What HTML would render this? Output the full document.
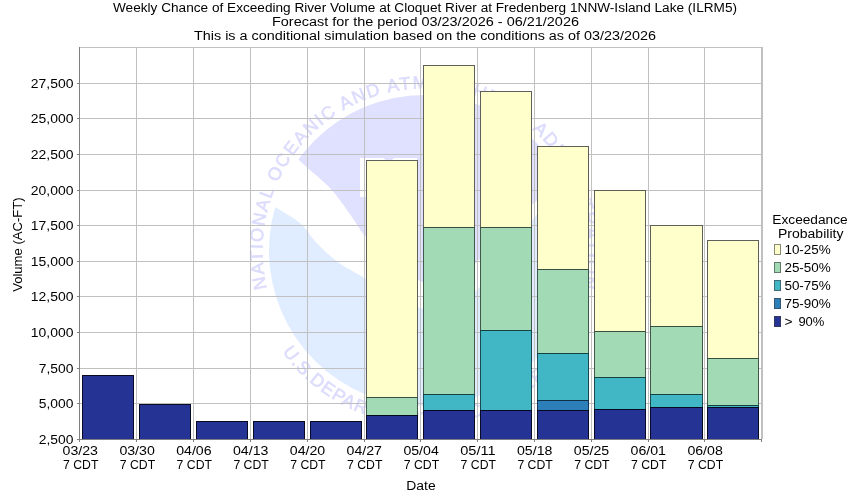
<!DOCTYPE html><html><head><meta charset="utf-8"><style>html,body{margin:0;padding:0;background:#fff;width:850px;height:500px;overflow:hidden}svg{display:block;will-change:transform}text{font-family:"Liberation Sans",sans-serif;fill:#000}</style></head><body>
<svg width="850" height="500" viewBox="0 0 850 500">
<rect x="0" y="0" width="850" height="500" fill="#fff"/>
<defs><clipPath id="disc"><circle cx="424.5" cy="250.5" r="155.5"/></clipPath>
<path id="toparc" d="M 266.98 288.32 A 162.00 162.00 0 1 1 580.22 295.15"/>
<path id="botarc" d="M 282.44 351.83 A 174.50 174.50 0 0 0 566.56 351.83"/>
</defs>
<g clip-path="url(#disc)">
<rect x="269.0" y="95.0" width="311.0" height="311.0" fill="#fff"/>
<path d="M 262.0 120.0 C 265.0 123.3, 273.7 133.2, 280.0 140.0 C 286.3 146.8, 292.0 153.3, 300.0 161.0 C 308.0 168.7, 321.0 179.0, 328.0 186.0 C 335.0 193.0, 337.3 196.8, 342.0 203.0 C 346.7 209.2, 352.0 217.3, 356.0 223.0 C 360.0 228.7, 359.8 230.5, 366.0 237.0 C 372.2 243.5, 384.0 254.7, 393.0 262.0 C 402.0 269.3, 410.8 277.0, 420.0 281.0 C 429.2 285.0, 438.5 289.2, 448.0 286.0 C 457.5 282.8, 467.5 271.0, 477.0 262.0 C 486.5 253.0, 495.5 241.8, 505.0 232.0 C 514.5 222.2, 524.8 211.7, 534.0 203.0 C 543.2 194.3, 549.0 189.7, 560.0 180.0 C 571.0 170.3, 593.3 150.8, 600.0 145.0 L 600 60 L 250 60 Z" fill="#E0E0FF"/>
<path d="M 255.0 195.0 C 258.3 197.0, 267.5 202.3, 275.0 207.0 C 282.5 211.7, 293.5 217.5, 300.0 223.0 C 306.5 228.5, 309.3 234.8, 314.0 240.0 C 318.7 245.2, 323.3 249.8, 328.0 254.0 C 332.7 258.2, 337.3 261.8, 342.0 265.0 C 346.7 268.2, 352.0 270.7, 356.0 273.0 C 360.0 275.3, 359.8 275.2, 366.0 279.0 C 372.2 282.8, 384.0 291.2, 393.0 296.0 C 402.0 300.8, 410.8 305.8, 420.0 308.0 C 429.2 310.2, 438.5 312.0, 448.0 309.0 C 457.5 306.0, 467.5 299.0, 477.0 290.0 C 486.5 281.0, 495.5 267.0, 505.0 255.0 C 514.5 243.0, 524.8 228.8, 534.0 218.0 C 543.2 207.2, 549.0 201.3, 560.0 190.0 C 571.0 178.7, 593.3 156.7, 600.0 150.0 L 600 420 L 250 420 Z" fill="#E0ECFF"/>
<path d="M 360 158 L 383 158 L 386 160 L 392 160 L 394 158 L 417 158 L 417 197 L 360 197 Z" fill="#fff"/>
</g>
<text font-size="18" style="fill:#DCDCFC;stroke:#DCDCFC;stroke-width:0.6"><textPath href="#toparc" textLength="584.3" lengthAdjust="spacing">NATIONAL OCEANIC AND ATMOSPHERIC ADMINISTRATION</textPath></text>
<text font-size="18" style="fill:#DCDCFC;stroke:#DCDCFC;stroke-width:0.6"><textPath href="#botarc" textLength="328.0" lengthAdjust="spacing">U.S.DEPARTMENT OF COMMERCE</textPath></text>
<rect x="136" y="47" width="1" height="392" fill="#C0C0C0"/>
<rect x="193" y="47" width="1" height="392" fill="#C0C0C0"/>
<rect x="250" y="47" width="1" height="392" fill="#C0C0C0"/>
<rect x="307" y="47" width="1" height="392" fill="#C0C0C0"/>
<rect x="364" y="47" width="1" height="392" fill="#C0C0C0"/>
<rect x="420" y="47" width="1" height="392" fill="#C0C0C0"/>
<rect x="477" y="47" width="1" height="392" fill="#C0C0C0"/>
<rect x="534" y="47" width="1" height="392" fill="#C0C0C0"/>
<rect x="591" y="47" width="1" height="392" fill="#C0C0C0"/>
<rect x="648" y="47" width="1" height="392" fill="#C0C0C0"/>
<rect x="704" y="47" width="1" height="392" fill="#C0C0C0"/>
<rect x="79" y="47" width="683" height="1" fill="#C0C0C0"/>
<rect x="79" y="83" width="683" height="1" fill="#C0C0C0"/>
<rect x="79" y="118" width="683" height="1" fill="#C0C0C0"/>
<rect x="79" y="154" width="683" height="1" fill="#C0C0C0"/>
<rect x="79" y="190" width="683" height="1" fill="#C0C0C0"/>
<rect x="79" y="225" width="683" height="1" fill="#C0C0C0"/>
<rect x="79" y="261" width="683" height="1" fill="#C0C0C0"/>
<rect x="79" y="296" width="683" height="1" fill="#C0C0C0"/>
<rect x="79" y="332" width="683" height="1" fill="#C0C0C0"/>
<rect x="79" y="368" width="683" height="1" fill="#C0C0C0"/>
<rect x="79" y="403" width="683" height="1" fill="#C0C0C0"/>
<rect x="761" y="47" width="2" height="392" fill="#C0C0C0"/>
<rect x="82" y="375" width="52" height="65" fill="#253494"/>
<rect x="82" y="375" width="1" height="65" fill="#080A24"/>
<rect x="133" y="375" width="1" height="65" fill="#080A24"/>
<rect x="82" y="375" width="52" height="1" fill="#080A24"/>
<rect x="82" y="439" width="52" height="1" fill="#080A24"/>
<rect x="139" y="404" width="52" height="36" fill="#253494"/>
<rect x="139" y="404" width="1" height="36" fill="#080A24"/>
<rect x="190" y="404" width="1" height="36" fill="#080A24"/>
<rect x="139" y="404" width="52" height="1" fill="#080A24"/>
<rect x="139" y="439" width="52" height="1" fill="#080A24"/>
<rect x="196" y="421" width="52" height="19" fill="#253494"/>
<rect x="196" y="421" width="1" height="19" fill="#080A24"/>
<rect x="247" y="421" width="1" height="19" fill="#080A24"/>
<rect x="196" y="421" width="52" height="1" fill="#080A24"/>
<rect x="196" y="439" width="52" height="1" fill="#080A24"/>
<rect x="253" y="421" width="52" height="19" fill="#253494"/>
<rect x="253" y="421" width="1" height="19" fill="#080A24"/>
<rect x="304" y="421" width="1" height="19" fill="#080A24"/>
<rect x="253" y="421" width="52" height="1" fill="#080A24"/>
<rect x="253" y="439" width="52" height="1" fill="#080A24"/>
<rect x="310" y="421" width="52" height="19" fill="#253494"/>
<rect x="310" y="421" width="1" height="19" fill="#080A24"/>
<rect x="361" y="421" width="1" height="19" fill="#080A24"/>
<rect x="310" y="421" width="52" height="1" fill="#080A24"/>
<rect x="310" y="439" width="52" height="1" fill="#080A24"/>
<rect x="366" y="160" width="52" height="238" fill="#FFFFCC"/>
<rect x="366" y="397" width="52" height="19" fill="#A1DAB4"/>
<rect x="366" y="415" width="52" height="25" fill="#253494"/>
<rect x="366" y="160" width="1" height="238" fill="#60605A"/>
<rect x="417" y="160" width="1" height="238" fill="#60605A"/>
<rect x="366" y="397" width="1" height="19" fill="#40584A"/>
<rect x="417" y="397" width="1" height="19" fill="#40584A"/>
<rect x="366" y="415" width="1" height="25" fill="#080A24"/>
<rect x="417" y="415" width="1" height="25" fill="#080A24"/>
<rect x="366" y="160" width="52" height="1" fill="#60605A"/>
<rect x="366" y="397" width="52" height="1" fill="#394f42"/>
<rect x="366" y="415" width="52" height="1" fill="#070920"/>
<rect x="366" y="439" width="52" height="1" fill="#080A24"/>
<rect x="423" y="65" width="52" height="163" fill="#FFFFCC"/>
<rect x="423" y="227" width="52" height="168" fill="#A1DAB4"/>
<rect x="423" y="394" width="52" height="17" fill="#41B6C4"/>
<rect x="423" y="410" width="52" height="30" fill="#253494"/>
<rect x="423" y="65" width="1" height="163" fill="#60605A"/>
<rect x="474" y="65" width="1" height="163" fill="#60605A"/>
<rect x="423" y="227" width="1" height="168" fill="#40584A"/>
<rect x="474" y="227" width="1" height="168" fill="#40584A"/>
<rect x="423" y="394" width="1" height="17" fill="#1A4A50"/>
<rect x="474" y="394" width="1" height="17" fill="#1A4A50"/>
<rect x="423" y="410" width="1" height="30" fill="#080A24"/>
<rect x="474" y="410" width="1" height="30" fill="#080A24"/>
<rect x="423" y="65" width="52" height="1" fill="#60605A"/>
<rect x="423" y="227" width="52" height="1" fill="#394f42"/>
<rect x="423" y="394" width="52" height="1" fill="#174242"/>
<rect x="423" y="410" width="52" height="1" fill="#070920"/>
<rect x="423" y="439" width="52" height="1" fill="#080A24"/>
<rect x="480" y="91" width="52" height="137" fill="#FFFFCC"/>
<rect x="480" y="227" width="52" height="104" fill="#A1DAB4"/>
<rect x="480" y="330" width="52" height="81" fill="#41B6C4"/>
<rect x="480" y="410" width="52" height="30" fill="#253494"/>
<rect x="480" y="91" width="1" height="137" fill="#60605A"/>
<rect x="531" y="91" width="1" height="137" fill="#60605A"/>
<rect x="480" y="227" width="1" height="104" fill="#40584A"/>
<rect x="531" y="227" width="1" height="104" fill="#40584A"/>
<rect x="480" y="330" width="1" height="81" fill="#1A4A50"/>
<rect x="531" y="330" width="1" height="81" fill="#1A4A50"/>
<rect x="480" y="410" width="1" height="30" fill="#080A24"/>
<rect x="531" y="410" width="1" height="30" fill="#080A24"/>
<rect x="480" y="91" width="52" height="1" fill="#60605A"/>
<rect x="480" y="227" width="52" height="1" fill="#394f42"/>
<rect x="480" y="330" width="52" height="1" fill="#174242"/>
<rect x="480" y="410" width="52" height="1" fill="#070920"/>
<rect x="480" y="439" width="52" height="1" fill="#080A24"/>
<rect x="537" y="146" width="52" height="124" fill="#FFFFCC"/>
<rect x="537" y="269" width="52" height="85" fill="#A1DAB4"/>
<rect x="537" y="353" width="52" height="48" fill="#41B6C4"/>
<rect x="537" y="400" width="52" height="11" fill="#2C7FB8"/>
<rect x="537" y="410" width="52" height="30" fill="#253494"/>
<rect x="537" y="146" width="1" height="124" fill="#60605A"/>
<rect x="588" y="146" width="1" height="124" fill="#60605A"/>
<rect x="537" y="269" width="1" height="85" fill="#40584A"/>
<rect x="588" y="269" width="1" height="85" fill="#40584A"/>
<rect x="537" y="353" width="1" height="48" fill="#1A4A50"/>
<rect x="588" y="353" width="1" height="48" fill="#1A4A50"/>
<rect x="537" y="400" width="1" height="11" fill="#123452"/>
<rect x="588" y="400" width="1" height="11" fill="#123452"/>
<rect x="537" y="410" width="1" height="30" fill="#080A24"/>
<rect x="588" y="410" width="1" height="30" fill="#080A24"/>
<rect x="537" y="146" width="52" height="1" fill="#60605A"/>
<rect x="537" y="269" width="52" height="1" fill="#394f42"/>
<rect x="537" y="353" width="52" height="1" fill="#174242"/>
<rect x="537" y="400" width="52" height="1" fill="#102e48"/>
<rect x="537" y="410" width="52" height="1" fill="#070920"/>
<rect x="537" y="439" width="52" height="1" fill="#080A24"/>
<rect x="594" y="190" width="52" height="142" fill="#FFFFCC"/>
<rect x="594" y="331" width="52" height="47" fill="#A1DAB4"/>
<rect x="594" y="377" width="52" height="33" fill="#41B6C4"/>
<rect x="594" y="409" width="52" height="31" fill="#253494"/>
<rect x="594" y="190" width="1" height="142" fill="#60605A"/>
<rect x="645" y="190" width="1" height="142" fill="#60605A"/>
<rect x="594" y="331" width="1" height="47" fill="#40584A"/>
<rect x="645" y="331" width="1" height="47" fill="#40584A"/>
<rect x="594" y="377" width="1" height="33" fill="#1A4A50"/>
<rect x="645" y="377" width="1" height="33" fill="#1A4A50"/>
<rect x="594" y="409" width="1" height="31" fill="#080A24"/>
<rect x="645" y="409" width="1" height="31" fill="#080A24"/>
<rect x="594" y="190" width="52" height="1" fill="#60605A"/>
<rect x="594" y="331" width="52" height="1" fill="#394f42"/>
<rect x="594" y="377" width="52" height="1" fill="#174242"/>
<rect x="594" y="409" width="52" height="1" fill="#070920"/>
<rect x="594" y="439" width="52" height="1" fill="#080A24"/>
<rect x="650" y="225" width="53" height="102" fill="#FFFFCC"/>
<rect x="650" y="326" width="53" height="69" fill="#A1DAB4"/>
<rect x="650" y="394" width="53" height="14" fill="#41B6C4"/>
<rect x="650" y="407" width="53" height="33" fill="#253494"/>
<rect x="650" y="225" width="1" height="102" fill="#60605A"/>
<rect x="702" y="225" width="1" height="102" fill="#60605A"/>
<rect x="650" y="326" width="1" height="69" fill="#40584A"/>
<rect x="702" y="326" width="1" height="69" fill="#40584A"/>
<rect x="650" y="394" width="1" height="14" fill="#1A4A50"/>
<rect x="702" y="394" width="1" height="14" fill="#1A4A50"/>
<rect x="650" y="407" width="1" height="33" fill="#080A24"/>
<rect x="702" y="407" width="1" height="33" fill="#080A24"/>
<rect x="650" y="225" width="53" height="1" fill="#60605A"/>
<rect x="650" y="326" width="53" height="1" fill="#394f42"/>
<rect x="650" y="394" width="53" height="1" fill="#174242"/>
<rect x="650" y="407" width="53" height="1" fill="#070920"/>
<rect x="650" y="439" width="53" height="1" fill="#080A24"/>
<rect x="707" y="240" width="52" height="119" fill="#FFFFCC"/>
<rect x="707" y="358" width="52" height="48" fill="#A1DAB4"/>
<rect x="707" y="405" width="52" height="3" fill="#41B6C4"/>
<rect x="707" y="407" width="52" height="33" fill="#253494"/>
<rect x="707" y="240" width="1" height="119" fill="#60605A"/>
<rect x="758" y="240" width="1" height="119" fill="#60605A"/>
<rect x="707" y="358" width="1" height="48" fill="#40584A"/>
<rect x="758" y="358" width="1" height="48" fill="#40584A"/>
<rect x="707" y="405" width="1" height="3" fill="#1A4A50"/>
<rect x="758" y="405" width="1" height="3" fill="#1A4A50"/>
<rect x="707" y="407" width="1" height="33" fill="#080A24"/>
<rect x="758" y="407" width="1" height="33" fill="#080A24"/>
<rect x="707" y="240" width="52" height="1" fill="#60605A"/>
<rect x="707" y="358" width="52" height="1" fill="#394f42"/>
<rect x="707" y="405" width="52" height="1" fill="#174242"/>
<rect x="707" y="407" width="52" height="1" fill="#070920"/>
<rect x="707" y="439" width="52" height="1" fill="#080A24"/>
<rect x="79" y="47" width="1" height="395" fill="#808080"/>
<rect x="77" y="439" width="685" height="1" fill="#808080"/>
<rect x="77" y="439" width="2" height="1" fill="#808080"/>
<rect x="77" y="403" width="2" height="1" fill="#808080"/>
<rect x="77" y="368" width="2" height="1" fill="#808080"/>
<rect x="77" y="332" width="2" height="1" fill="#808080"/>
<rect x="77" y="296" width="2" height="1" fill="#808080"/>
<rect x="77" y="261" width="2" height="1" fill="#808080"/>
<rect x="77" y="225" width="2" height="1" fill="#808080"/>
<rect x="77" y="190" width="2" height="1" fill="#808080"/>
<rect x="77" y="154" width="2" height="1" fill="#808080"/>
<rect x="77" y="118" width="2" height="1" fill="#808080"/>
<rect x="77" y="83" width="2" height="1" fill="#808080"/>
<rect x="79" y="439" width="1" height="3" fill="#808080"/>
<rect x="136" y="439" width="1" height="3" fill="#808080"/>
<rect x="193" y="439" width="1" height="3" fill="#808080"/>
<rect x="250" y="439" width="1" height="3" fill="#808080"/>
<rect x="307" y="439" width="1" height="3" fill="#808080"/>
<rect x="364" y="439" width="1" height="3" fill="#808080"/>
<rect x="420" y="439" width="1" height="3" fill="#808080"/>
<rect x="477" y="439" width="1" height="3" fill="#808080"/>
<rect x="534" y="439" width="1" height="3" fill="#808080"/>
<rect x="591" y="439" width="1" height="3" fill="#808080"/>
<rect x="648" y="439" width="1" height="3" fill="#808080"/>
<rect x="704" y="439" width="1" height="3" fill="#808080"/>
<rect x="761" y="439" width="1" height="3" fill="#808080"/>
<text x="73.4" y="444.0" font-size="12.5" text-anchor="end" textLength="34.6" lengthAdjust="spacingAndGlyphs">2,500</text>
<text x="73.4" y="408.0" font-size="12.5" text-anchor="end" textLength="34.6" lengthAdjust="spacingAndGlyphs">5,000</text>
<text x="73.4" y="373.0" font-size="12.5" text-anchor="end" textLength="34.6" lengthAdjust="spacingAndGlyphs">7,500</text>
<text x="73.4" y="337.0" font-size="12.5" text-anchor="end" textLength="42.6" lengthAdjust="spacingAndGlyphs">10,000</text>
<text x="73.4" y="301.0" font-size="12.5" text-anchor="end" textLength="42.6" lengthAdjust="spacingAndGlyphs">12,500</text>
<text x="73.4" y="266.0" font-size="12.5" text-anchor="end" textLength="42.6" lengthAdjust="spacingAndGlyphs">15,000</text>
<text x="73.4" y="230.0" font-size="12.5" text-anchor="end" textLength="42.6" lengthAdjust="spacingAndGlyphs">17,500</text>
<text x="73.4" y="195.0" font-size="12.5" text-anchor="end" textLength="42.6" lengthAdjust="spacingAndGlyphs">20,000</text>
<text x="73.4" y="159.0" font-size="12.5" text-anchor="end" textLength="42.6" lengthAdjust="spacingAndGlyphs">22,500</text>
<text x="73.4" y="123.0" font-size="12.5" text-anchor="end" textLength="42.6" lengthAdjust="spacingAndGlyphs">25,000</text>
<text x="73.4" y="88.0" font-size="12.5" text-anchor="end" textLength="42.6" lengthAdjust="spacingAndGlyphs">27,500</text>
<text x="80.3" y="454.5" font-size="12.5" text-anchor="middle" textLength="35.4" lengthAdjust="spacingAndGlyphs">03/23</text>
<text x="80.7" y="468.5" font-size="12.5" text-anchor="middle" textLength="35.4" lengthAdjust="spacingAndGlyphs">7 CDT</text>
<text x="137.1" y="454.5" font-size="12.5" text-anchor="middle" textLength="35.4" lengthAdjust="spacingAndGlyphs">03/30</text>
<text x="137.5" y="468.5" font-size="12.5" text-anchor="middle" textLength="35.4" lengthAdjust="spacingAndGlyphs">7 CDT</text>
<text x="193.9" y="454.5" font-size="12.5" text-anchor="middle" textLength="35.4" lengthAdjust="spacingAndGlyphs">04/06</text>
<text x="194.3" y="468.5" font-size="12.5" text-anchor="middle" textLength="35.4" lengthAdjust="spacingAndGlyphs">7 CDT</text>
<text x="250.7" y="454.5" font-size="12.5" text-anchor="middle" textLength="35.4" lengthAdjust="spacingAndGlyphs">04/13</text>
<text x="251.1" y="468.5" font-size="12.5" text-anchor="middle" textLength="35.4" lengthAdjust="spacingAndGlyphs">7 CDT</text>
<text x="307.5" y="454.5" font-size="12.5" text-anchor="middle" textLength="35.4" lengthAdjust="spacingAndGlyphs">04/20</text>
<text x="307.9" y="468.5" font-size="12.5" text-anchor="middle" textLength="35.4" lengthAdjust="spacingAndGlyphs">7 CDT</text>
<text x="364.3" y="454.5" font-size="12.5" text-anchor="middle" textLength="35.4" lengthAdjust="spacingAndGlyphs">04/27</text>
<text x="364.7" y="468.5" font-size="12.5" text-anchor="middle" textLength="35.4" lengthAdjust="spacingAndGlyphs">7 CDT</text>
<text x="421.1" y="454.5" font-size="12.5" text-anchor="middle" textLength="35.4" lengthAdjust="spacingAndGlyphs">05/04</text>
<text x="421.5" y="468.5" font-size="12.5" text-anchor="middle" textLength="35.4" lengthAdjust="spacingAndGlyphs">7 CDT</text>
<text x="477.9" y="454.5" font-size="12.5" text-anchor="middle" textLength="35.4" lengthAdjust="spacingAndGlyphs">05/11</text>
<text x="478.3" y="468.5" font-size="12.5" text-anchor="middle" textLength="35.4" lengthAdjust="spacingAndGlyphs">7 CDT</text>
<text x="534.7" y="454.5" font-size="12.5" text-anchor="middle" textLength="35.4" lengthAdjust="spacingAndGlyphs">05/18</text>
<text x="535.1" y="468.5" font-size="12.5" text-anchor="middle" textLength="35.4" lengthAdjust="spacingAndGlyphs">7 CDT</text>
<text x="591.5" y="454.5" font-size="12.5" text-anchor="middle" textLength="35.4" lengthAdjust="spacingAndGlyphs">05/25</text>
<text x="591.9" y="468.5" font-size="12.5" text-anchor="middle" textLength="35.4" lengthAdjust="spacingAndGlyphs">7 CDT</text>
<text x="648.3" y="454.5" font-size="12.5" text-anchor="middle" textLength="35.4" lengthAdjust="spacingAndGlyphs">06/01</text>
<text x="648.7" y="468.5" font-size="12.5" text-anchor="middle" textLength="35.4" lengthAdjust="spacingAndGlyphs">7 CDT</text>
<text x="705.1" y="454.5" font-size="12.5" text-anchor="middle" textLength="35.4" lengthAdjust="spacingAndGlyphs">06/08</text>
<text x="705.5" y="468.5" font-size="12.5" text-anchor="middle" textLength="35.4" lengthAdjust="spacingAndGlyphs">7 CDT</text>
<text x="425" y="12" font-size="12.5" text-anchor="middle" textLength="624" lengthAdjust="spacingAndGlyphs">Weekly Chance of Exceeding River Volume at Cloquet River at Fredenberg 1NNW-Island Lake (ILRM5)</text>
<text x="425.5" y="26" font-size="12.5" text-anchor="middle" textLength="307" lengthAdjust="spacingAndGlyphs">Forecast for the period 03/23/2026 - 06/21/2026</text>
<text x="425" y="40" font-size="12.5" text-anchor="middle" textLength="462" lengthAdjust="spacingAndGlyphs">This is a conditional simulation based on the conditions as of 03/23/2026</text>
<text x="421" y="489.6" font-size="12.5" text-anchor="middle" textLength="29.4" lengthAdjust="spacingAndGlyphs">Date</text>
<text transform="translate(22,244.6) rotate(-90)" x="0" y="0" font-size="12.5" text-anchor="middle" textLength="94.5" lengthAdjust="spacingAndGlyphs">Volume (AC-FT)</text>
<text x="810" y="223.7" font-size="12.5" text-anchor="middle" textLength="75.4" lengthAdjust="spacingAndGlyphs">Exceedance</text>
<text x="810.7" y="237.8" font-size="12.5" text-anchor="middle" textLength="65.4" lengthAdjust="spacingAndGlyphs">Probability</text>
<rect x="774.5" y="244.5" width="6" height="10" fill="#FFFFCC" stroke="#8a8a75"/>
<text x="784.4" y="254" font-size="12.5" textLength="46.4" lengthAdjust="spacingAndGlyphs">10-25%</text>
<rect x="774.5" y="262.5" width="6" height="10" fill="#A1DAB4" stroke="#647b6c"/>
<text x="784.4" y="272" font-size="12.5" textLength="46.4" lengthAdjust="spacingAndGlyphs">25-50%</text>
<rect x="774.5" y="280.5" width="6" height="10" fill="#41B6C4" stroke="#3e6c72"/>
<text x="784.4" y="290" font-size="12.5" textLength="46.4" lengthAdjust="spacingAndGlyphs">50-75%</text>
<rect x="774.5" y="298.5" width="6" height="10" fill="#2C7FB8" stroke="#35566d"/>
<text x="784.4" y="308" font-size="12.5" textLength="46.4" lengthAdjust="spacingAndGlyphs">75-90%</text>
<rect x="774.5" y="316.5" width="6" height="10" fill="#253494" stroke="#32385f"/>
<text x="784.4" y="326" font-size="12.5" textLength="8" lengthAdjust="spacingAndGlyphs">&gt;</text>
<text x="798.4" y="326" font-size="12.5" textLength="26" lengthAdjust="spacingAndGlyphs">90%</text>
</svg></body></html>
